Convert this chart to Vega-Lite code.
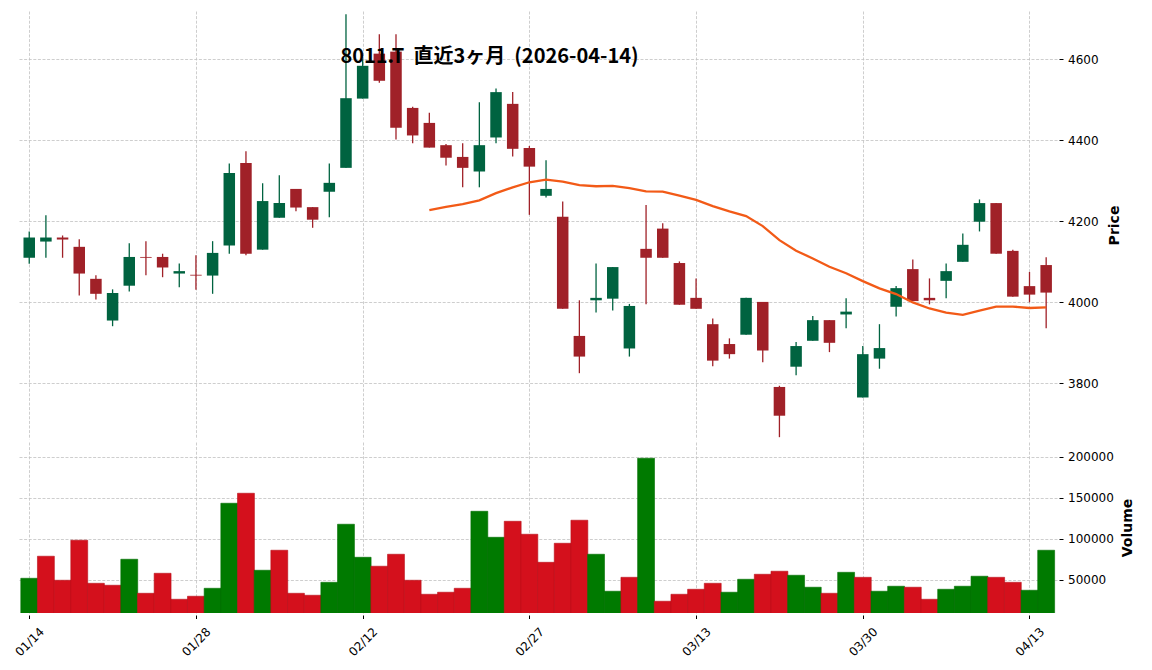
{
  "$schema": "https://vega.github.io/schema/vega-lite/v6.json",
  "padding": {"left": 12, "top": 11, "right": 0, "bottom": 0},
  "background": "white",
  "spacing": 3,
  "config": {
    "view": {"stroke": null},
    "axis": {
      "domain": false,
      "gridColor": "#c2c2c2",
      "gridDash": [3, 1.6],
      "gridWidth": 0.8,
      "tickColor": "#000000",
      "tickSize": 4,
      "tickWidth": 1,
      "labelFont": "DejaVu Sans",
      "labelFontSize": 12,
      "labelColor": "#000000",
      "titleFont": "DejaVu Sans",
      "titleFontSize": 14,
      "titleFontWeight": "bold",
      "titleColor": "#000000"
    }
  },
  "data": {
    "values": [
      {"date": "2026-01-14", "i": 0, "o": 4110, "h": 4175, "l": 4095, "c": 4160, "v": 51600, "vd": "up", "ma": null},
      {"date": "2026-01-15", "i": 1, "o": 4150, "h": 4215, "l": 4110, "c": 4160, "v": 78500, "vd": "down", "ma": null},
      {"date": "2026-01-16", "i": 2, "o": 4160, "h": 4165, "l": 4110, "c": 4155, "v": 49200, "vd": "down", "ma": null},
      {"date": "2026-01-19", "i": 3, "o": 4137, "h": 4156, "l": 4017, "c": 4071, "v": 98000, "vd": "down", "ma": null},
      {"date": "2026-01-20", "i": 4, "o": 4058, "h": 4067, "l": 4007, "c": 4021, "v": 45500, "vd": "down", "ma": null},
      {"date": "2026-01-21", "i": 5, "o": 3955, "h": 4032, "l": 3941, "c": 4023, "v": 43100, "vd": "down", "ma": null},
      {"date": "2026-01-22", "i": 6, "o": 4041, "h": 4146, "l": 4027, "c": 4112, "v": 74800, "vd": "up", "ma": null},
      {"date": "2026-01-23", "i": 7, "o": 4112, "h": 4151, "l": 4067, "c": 4110, "v": 33300, "vd": "down", "ma": null},
      {"date": "2026-01-26", "i": 8, "o": 4112, "h": 4120, "l": 4062, "c": 4086, "v": 57700, "vd": "down", "ma": null},
      {"date": "2026-01-27", "i": 9, "o": 4071, "h": 4096, "l": 4037, "c": 4077, "v": 26000, "vd": "down", "ma": null},
      {"date": "2026-01-28", "i": 10, "o": 4068, "h": 4116, "l": 4031, "c": 4066, "v": 29700, "vd": "down", "ma": null},
      {"date": "2026-01-29", "i": 11, "o": 4066, "h": 4151, "l": 4021, "c": 4122, "v": 39400, "vd": "up", "ma": null},
      {"date": "2026-01-30", "i": 12, "o": 4140, "h": 4343, "l": 4120, "c": 4319, "v": 143100, "vd": "up", "ma": null},
      {"date": "2026-02-02", "i": 13, "o": 4344, "h": 4373, "l": 4116, "c": 4120, "v": 155300, "vd": "down", "ma": null},
      {"date": "2026-02-03", "i": 14, "o": 4130, "h": 4294, "l": 4130, "c": 4250, "v": 61400, "vd": "up", "ma": null},
      {"date": "2026-02-04", "i": 15, "o": 4209, "h": 4314, "l": 4209, "c": 4245, "v": 85800, "vd": "down", "ma": null},
      {"date": "2026-02-05", "i": 16, "o": 4280, "h": 4280, "l": 4225, "c": 4234, "v": 33300, "vd": "down", "ma": null},
      {"date": "2026-02-06", "i": 17, "o": 4235, "h": 4235, "l": 4184, "c": 4204, "v": 30900, "vd": "down", "ma": null},
      {"date": "2026-02-09", "i": 18, "o": 4273, "h": 4343, "l": 4210, "c": 4295, "v": 46700, "vd": "up", "ma": null},
      {"date": "2026-02-10", "i": 19, "o": 4332, "h": 4711, "l": 4332, "c": 4504, "v": 117500, "vd": "up", "ma": null},
      {"date": "2026-02-12", "i": 20, "o": 4503, "h": 4600, "l": 4503, "c": 4584, "v": 77200, "vd": "up", "ma": null},
      {"date": "2026-02-13", "i": 21, "o": 4614, "h": 4662, "l": 4542, "c": 4547, "v": 66300, "vd": "down", "ma": null},
      {"date": "2026-02-16", "i": 22, "o": 4619, "h": 4662, "l": 4402, "c": 4431, "v": 80900, "vd": "down", "ma": null},
      {"date": "2026-02-17", "i": 23, "o": 4480, "h": 4483, "l": 4393, "c": 4412, "v": 49200, "vd": "down", "ma": null},
      {"date": "2026-02-18", "i": 24, "o": 4443, "h": 4468, "l": 4382, "c": 4382, "v": 32100, "vd": "down", "ma": 4227.6},
      {"date": "2026-02-19", "i": 25, "o": 4388, "h": 4391, "l": 4338, "c": 4357, "v": 34600, "vd": "down", "ma": 4235.5},
      {"date": "2026-02-20", "i": 26, "o": 4359, "h": 4393, "l": 4284, "c": 4332, "v": 39400, "vd": "down", "ma": 4242.4},
      {"date": "2026-02-24", "i": 27, "o": 4323, "h": 4494, "l": 4284, "c": 4388, "v": 133300, "vd": "up", "ma": 4251.7},
      {"date": "2026-02-25", "i": 28, "o": 4407, "h": 4528, "l": 4393, "c": 4519, "v": 101600, "vd": "up", "ma": 4269.6},
      {"date": "2026-02-26", "i": 29, "o": 4490, "h": 4519, "l": 4360, "c": 4379, "v": 121100, "vd": "down", "ma": 4283.9},
      {"date": "2026-02-27", "i": 30, "o": 4381, "h": 4386, "l": 4216, "c": 4335, "v": 105300, "vd": "down", "ma": 4296.4},
      {"date": "2026-03-02", "i": 31, "o": 4263, "h": 4351, "l": 4259, "c": 4280, "v": 71100, "vd": "down", "ma": 4303.1},
      {"date": "2026-03-03", "i": 32, "o": 4211, "h": 4249, "l": 3984, "c": 3984, "v": 94300, "vd": "down", "ma": 4298.1},
      {"date": "2026-03-04", "i": 33, "o": 3917, "h": 4005, "l": 3825, "c": 3866, "v": 122400, "vd": "down", "ma": 4289.3},
      {"date": "2026-03-05", "i": 34, "o": 4005, "h": 4096, "l": 3975, "c": 4011, "v": 80900, "vd": "up", "ma": 4286.6},
      {"date": "2026-03-06", "i": 35, "o": 4009, "h": 4087, "l": 3980, "c": 4087, "v": 35800, "vd": "up", "ma": 4287.5},
      {"date": "2026-03-09", "i": 36, "o": 3886, "h": 3996, "l": 3866, "c": 3991, "v": 52800, "vd": "down", "ma": 4282.2},
      {"date": "2026-03-10", "i": 37, "o": 4132, "h": 4240, "l": 3995, "c": 4110, "v": 198000, "vd": "up", "ma": 4273.9},
      {"date": "2026-03-11", "i": 38, "o": 4182, "h": 4195, "l": 4110, "c": 4110, "v": 23600, "vd": "down", "ma": 4273.5},
      {"date": "2026-03-12", "i": 39, "o": 4097, "h": 4101, "l": 3994, "c": 3994, "v": 32100, "vd": "down", "ma": 4263.2},
      {"date": "2026-03-13", "i": 40, "o": 4011, "h": 4059, "l": 3984, "c": 3984, "v": 38200, "vd": "down", "ma": 4252.8},
      {"date": "2026-03-16", "i": 41, "o": 3946, "h": 3960, "l": 3842, "c": 3856, "v": 45500, "vd": "down", "ma": 4237.7},
      {"date": "2026-03-17", "i": 42, "o": 3897, "h": 3911, "l": 3861, "c": 3872, "v": 34600, "vd": "up", "ma": 4224.4},
      {"date": "2026-03-18", "i": 43, "o": 3920, "h": 4011, "l": 3920, "c": 4011, "v": 50400, "vd": "up", "ma": 4213.0},
      {"date": "2026-03-19", "i": 44, "o": 4001, "h": 4001, "l": 3852, "c": 3881, "v": 56500, "vd": "down", "ma": 4188.1},
      {"date": "2026-03-23", "i": 45, "o": 3791, "h": 3794, "l": 3667, "c": 3720, "v": 60200, "vd": "down", "ma": 4153.6},
      {"date": "2026-03-24", "i": 46, "o": 3841, "h": 3902, "l": 3820, "c": 3892, "v": 55300, "vd": "up", "ma": 4127.4},
      {"date": "2026-03-25", "i": 47, "o": 3905, "h": 3966, "l": 3905, "c": 3956, "v": 40700, "vd": "up", "ma": 4108.4},
      {"date": "2026-03-26", "i": 48, "o": 3956, "h": 3956, "l": 3877, "c": 3900, "v": 33300, "vd": "down", "ma": 4087.9},
      {"date": "2026-03-27", "i": 49, "o": 3970, "h": 4010, "l": 3936, "c": 3977, "v": 58900, "vd": "up", "ma": 4071.7},
      {"date": "2026-03-30", "i": 50, "o": 3765, "h": 3892, "l": 3765, "c": 3872, "v": 52800, "vd": "down", "ma": 4052.3},
      {"date": "2026-03-31", "i": 51, "o": 3861, "h": 3946, "l": 3836, "c": 3887, "v": 35800, "vd": "up", "ma": 4034.5},
      {"date": "2026-04-01", "i": 52, "o": 3989, "h": 4040, "l": 3965, "c": 4035, "v": 41900, "vd": "up", "ma": 4020.4},
      {"date": "2026-04-02", "i": 53, "o": 4082, "h": 4106, "l": 4003, "c": 4003, "v": 40700, "vd": "down", "ma": 3999.7},
      {"date": "2026-04-03", "i": 54, "o": 4011, "h": 4059, "l": 3995, "c": 4005, "v": 26000, "vd": "down", "ma": 3984.8},
      {"date": "2026-04-06", "i": 55, "o": 4053, "h": 4096, "l": 4010, "c": 4077, "v": 38200, "vd": "up", "ma": 3974.4},
      {"date": "2026-04-07", "i": 56, "o": 4100, "h": 4170, "l": 4100, "c": 4142, "v": 41900, "vd": "up", "ma": 3968.9},
      {"date": "2026-04-08", "i": 57, "o": 4199, "h": 4254, "l": 4175, "c": 4245, "v": 54100, "vd": "up", "ma": 3979.4},
      {"date": "2026-04-09", "i": 58, "o": 4245, "h": 4245, "l": 4120, "c": 4120, "v": 52800, "vd": "down", "ma": 3989.5},
      {"date": "2026-04-10", "i": 59, "o": 4127, "h": 4130, "l": 4014, "c": 4014, "v": 46700, "vd": "down", "ma": 3989.6},
      {"date": "2026-04-13", "i": 60, "o": 4040, "h": 4075, "l": 4000, "c": 4019, "v": 37000, "vd": "up", "ma": 3986.0},
      {"date": "2026-04-14", "i": 61, "o": 4092, "h": 4111, "l": 3936, "c": 4024, "v": 85800, "vd": "up", "ma": 3987.4}
    ]
  },
  "vconcat": [
    {
      "width": 1039,
      "height": 428,
      "title": {
        "text": "8011.T\u00a0\u00a0直近3ヶ月\u00a0\u00a0(2026-04-14)",
        "font": "Noto Sans CJK JP",
        "fontSize": 20,
        "fontWeight": "bold",
        "color": "#000000",
        "anchor": "middle",
        "baseline": "alphabetic",
        "offset": -72,
        "dx": -48
      },
      "encoding": {
        "x": {
          "field": "i",
          "type": "quantitative",
          "scale": {"domain": [-0.374, 61.35], "nice": false, "zero": false},
          "axis": {"values": [0, 10, 20, 30, 40, 50, 60], "labels": false, "ticks": false, "domain": false, "title": null, "grid": true}
        }
      },
      "layer": [
        {
          "mark": {"type": "rule", "strokeWidth": 1.3},
          "encoding": {
            "y": {
              "field": "l",
              "type": "quantitative",
              "scale": {"domain": [3662.5, 4719.3], "nice": false, "zero": false},
              "axis": {
                "orient": "right",
                "values": [3800, 4000, 4200, 4400, 4600],
                "format": "d",
                "grid": true,
                "offset": 2,
                "labelPadding": 4.5,
                "title": "Price",
                "titleAngle": 270,
                "titleBaseline": "top",
                "titlePadding": 9
              }
            },
            "y2": {"field": "h"},
            "color": {"condition": {"test": "datum.c >= datum.o", "value": "#006340"}, "value": "#a02128"}
          }
        },
        {
          "mark": {"type": "bar", "width": 11.5},
          "encoding": {
            "y": {"field": "o", "type": "quantitative"},
            "y2": {"field": "c"},
            "color": {"condition": {"test": "datum.c >= datum.o", "value": "#006340"}, "value": "#a02128"}
          }
        },
        {
          "mark": {"type": "line", "color": "#f25a17", "strokeWidth": 2.3},
          "encoding": {
            "y": {"field": "ma", "type": "quantitative"}
          }
        }
      ]
    },
    {
      "width": 1039,
      "height": 171,
      "mark": {"type": "bar", "width": 16.9, "clip": true, "strokeWidth": 0.6},
      "encoding": {
        "x": {
          "field": "i",
          "type": "quantitative",
          "scale": {"domain": [-0.374, 61.35], "nice": false, "zero": false},
          "axis": {
            "values": [0, 10, 20, 30, 40, 50, 60],
            "labelExpr": "['01/14','01/28','02/12','02/27','03/13','03/30','04/13'][round(datum.value/10)]",
            "labelAngle": -45,
            "labelAlign": "center",
            "labelBaseline": "middle",
            "labelPadding": 23,
            "offset": 2,
            "tickSize": 3.5,
            "grid": true,
            "title": null
          }
        },
        "y": {
          "field": "v",
          "type": "quantitative",
          "scale": {"domain": [9270, 217800], "nice": false, "zero": false},
          "axis": {
            "orient": "right",
            "values": [50000, 100000, 150000, 200000],
            "format": "d",
            "grid": true,
            "offset": 2,
            "labelPadding": 4.5,
            "title": "Volume",
            "titleAngle": 270,
            "titleBaseline": "top",
            "titlePadding": 7
          }
        },
        "fill": {"field": "vd", "type": "nominal", "scale": {"domain": ["up", "down"], "range": ["#007a00", "#d4101c"]}, "legend": null},
        "stroke": {"field": "vd", "type": "nominal", "scale": {"domain": ["up", "down"], "range": ["#006e00", "#b80f19"]}, "legend": null}
      }
    }
  ]
}
